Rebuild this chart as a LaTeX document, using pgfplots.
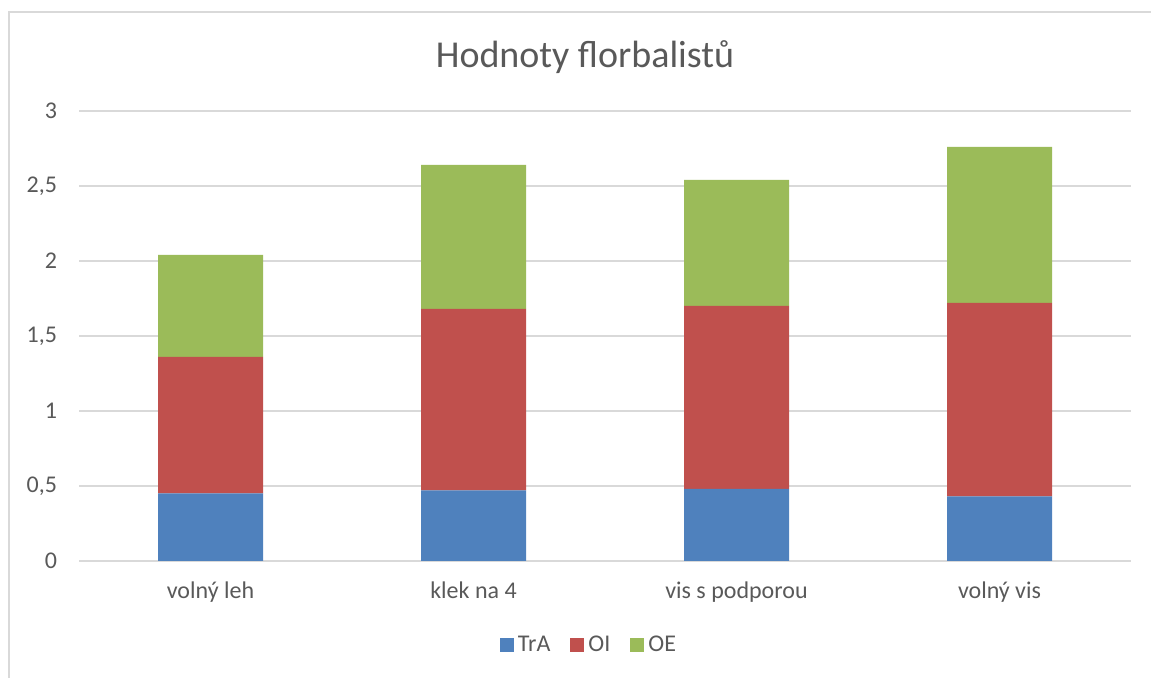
\documentclass[border=0pt]{standalone}
\usepackage{pgfplots}
\pgfplotsset{compat=1.18}
\usepackage{fontspec}
\setmainfont{Carlito}

\definecolor{traBlue}{HTML}{4F81BD}
\definecolor{oiRed}{HTML}{C0504D}
\definecolor{oeGreen}{HTML}{9BBB59}
\definecolor{gridGrey}{HTML}{D9D9D9}
\definecolor{textGrey}{HTML}{595959}

\begin{document}
\begin{tikzpicture}
\useasboundingbox (0,0) rectangle (575.5pt,339pt);
% chart frame (left and top edges)
\draw[gridGrey, line width=1pt] (4.5pt,-5pt) -- (4.5pt,333pt) -- (585pt,333pt);
% title
\node[text=textGrey, font=\fontsize{19pt}{22pt}\selectfont] at (292.5pt,310.5pt) {Hodnoty florbalistů};
\begin{axis}[
  at={(39.5pt,58.5pt)}, anchor=south west,
  scale only axis,
  width=526pt, height=225pt,
  ybar stacked,
  bar width=52.5pt,
  xmin=-0.5, xmax=3.5,
  ymin=0, ymax=3,
  xtick=data,
  xticklabels={volný leh, klek na 4, vis s podporou, volný vis},
  ytick={0,0.5,1,1.5,2,2.5,3},
  /pgf/number format/assume math mode=true,
  /pgf/number format/use comma,
  /pgf/number format/fixed,
  axis line style={draw=none},
  axis x line*=bottom,
  major tick length=0pt,
  ymajorgrids,
  grid style={gridGrey, line width=1pt},
  tick label style={text=textGrey, font=\fontsize{12pt}{14pt}\selectfont},
  yticklabel style={xshift=-7.5pt},
  xticklabel style={yshift=-7pt},
  legend style={
    at={(axis description cs:0.5,0)}, anchor=center,
    xshift=-7.5pt, yshift=-42pt,
    draw=none, fill=none,
    font=\fontsize{12pt}{14pt}\selectfont, text=textGrey,
    legend columns=-1,
    /tikz/every even column/.append style={column sep=8pt},
  },
  legend image code/.code={\fill[#1] (0pt,-3.5pt) rectangle (7pt,3.5pt);},
]
\addplot[fill=traBlue, draw=none] coordinates {(0,0.45) (1,0.47) (2,0.48) (3,0.43)};
\addplot[fill=oiRed, draw=none] coordinates {(0,0.91) (1,1.21) (2,1.22) (3,1.29)};
\addplot[fill=oeGreen, draw=none] coordinates {(0,0.68) (1,0.96) (2,0.84) (3,1.04)};
\draw[gridGrey, line width=1pt] (axis cs:-0.5,0) -- (axis cs:3.5,0);
\legend{TrA, OI, OE}
\end{axis}
\end{tikzpicture}
\end{document}
